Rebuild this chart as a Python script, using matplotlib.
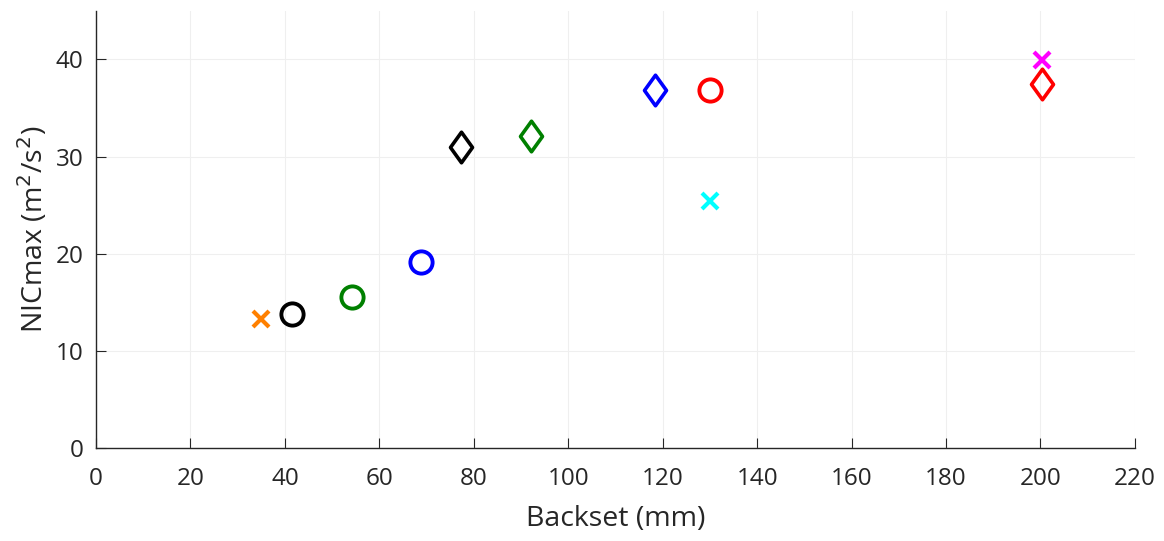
import matplotlib
matplotlib.use("Agg")
import matplotlib.pyplot as plt
from matplotlib.path import Path

plt.rcParams['font.family'] = ['Open Sans', 'DejaVu Sans']

# Data: (backset mm, NICmax m^2/s^2)
backset = [35.0, 41.4, 54.3, 68.9, 77.2, 92.1, 118.4, 130.0, 130.0, 200.3, 200.3]
nicmax  = [13.3, 13.8, 15.5, 19.1, 31.0, 32.1, 36.8, 36.8, 25.4, 39.9, 37.5]
markers = ['x', 'o', 'o', 'o', 'd', 'd', 'd', 'o', 'x', 'x', 'd']
colors  = ['#FF8000', '#000000', '#008000', '#0000FF', '#000000', '#008000',
           '#0000FF', '#FF0000', '#00FFFF', '#FF00FF', '#FF0000']

x_ticks = list(range(0, 221, 20))
y_ticks = list(range(0, 41, 10))

diamond = Path([(0, 1), (0.72, 0), (0, -1), (-0.72, 0), (0, 1)],
               [Path.MOVETO, Path.LINETO, Path.LINETO, Path.LINETO, Path.CLOSEPOLY])

fig = plt.figure(figsize=(11.64, 5.41), dpi=100)
ax = fig.add_axes([0.0825, 0.172, 0.8925, 0.808])

for xv, yv, m, c in zip(backset, nicmax, markers, colors):
    if m == 'o':
        ax.plot(xv, yv, marker='o', ms=16, mfc='none', mec=c, mew=2.8, ls='none')
    elif m == 'd':
        ax.plot(xv, yv, marker=diamond, ms=22, mfc='none', mec=c, mew=2.6, ls='none')
    else:
        ax.plot(xv, yv, marker='x', ms=12, mec=c, mew=3.0, ls='none')

ax.set_xlim(0, 220)
ax.set_ylim(0, 45)
ax.set_xticks(x_ticks)
ax.set_yticks(y_ticks)
ax.grid(True, color='#efefef', lw=0.8)
ax.set_axisbelow(True)
for s in ['top', 'right']:
    ax.spines[s].set_visible(False)
for s in ['left', 'bottom']:
    ax.spines[s].set_color('#262626')
    ax.spines[s].set_linewidth(1.0)
ax.tick_params(direction='in', length=7, colors='#262626', labelsize=17.5)
ax.tick_params(axis='x', pad=14)
ax.tick_params(axis='y', pad=9)
ax.set_xlabel('Backset (mm)', fontsize=20.5, color='#262626', labelpad=10)
ax.set_ylabel('NICmax (m$^2$/s$^2$)', fontsize=20.5, color='#262626', labelpad=4)

fig.savefig('out.png', dpi=100)
